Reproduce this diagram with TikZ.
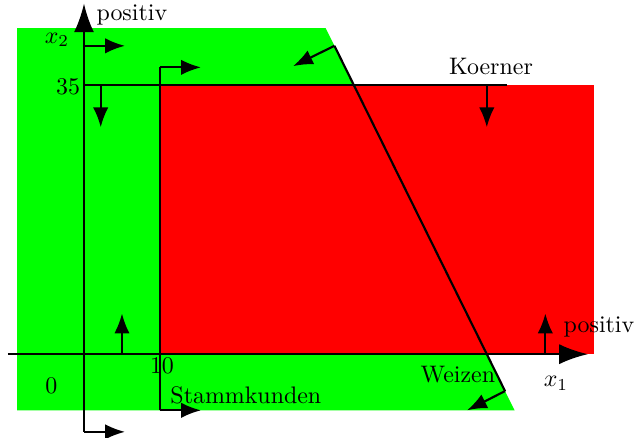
\documentclass[tikz,border=0pt]{standalone}
\usepackage{xcolor}
\usetikzlibrary{arrows.meta}
\begin{document}
\begin{tikzpicture}[
  x=0.1117cm,y=0.113cm,
  constraint/.style={line width=0.9pt},
  hook/.style={line width=0.9pt,-{Latex[length=8.3pt,width=6.4pt]}},
  axis/.style={line width=0.9pt,-{Latex[length=12pt,width=8.4pt]}}
]
  \useasboundingbox (-11.05,-10.8) rectangle (72.63,46.06);

  % Bereiche
  \fill[green] (-8.8,-7.3) -- (-8.8,42.4) -- (31.8,42.4) -- (56.65,-7.3) -- cycle;
  \fill[red] (10,0) rectangle (67.1,35);

  % Achsen
  \coordinate (o) at (0,0);
  \coordinate (x1s) at (-10,0);
  \coordinate (x1e) at (66.3,0);
  \coordinate (x2s) at (0,-10.1);
  \coordinate (x2e) at (0,45.6);
  \draw[axis] (x1s)--(x1e);
  \draw[axis] (x2s)--(x2e);

  % x1 >= 0
  \coordinate (nnb) at (0,-10.1);
  \coordinate (nnt) at (0,40.1);
  \draw[hook] (nnb)--++(5.4,0);
  \draw[hook] (nnt)--++(5.4,0);
  % x2 >= 0
  \draw[hook] (5,0)--++(0,5.3);
  \draw[hook] (60.7,0)--++(0,5.3);

  % Stammkunden
  \coordinate (stb) at (10,-7.3);
  \coordinate (stt) at (10,37.3);
  \draw[constraint] (stb)--(stt);
  \draw[hook] (stb)--++(5.4,0);
  \draw[hook] (stt)--++(5.4,0);

  % Koerner
  \coordinate (koa) at (0,35);
  \coordinate (kob) at (55.6,35);
  \draw[constraint] (koa)--(kob);
  \draw[hook] (2.2,35)--++(0,-5.5);
  \draw[hook] (53,35)--++(0,-5.5);

  % Weizen
  \coordinate (wet) at (32.95,40.1);
  \coordinate (web) at (55.4,-4.8);
  \draw[constraint] (wet)--(web);
  \draw[hook] (wet)--(27.5,37.45);
  \draw[hook] (web)--(50.4,-7.3);

  % Beschriftung
  \node (posy) at (6.3,44.1) {positiv};
  \node (labx2) at (-3.55,40.85) {$x_2$};
  \node (lab35) at (-2.1,34.8) {35};
  \node (lab0) at (-4.28,-4.16) {0};
  \node (lab10) at (10.26,-1.56) {10};
  \node (labst) at (21.3,-5.4) {Stammkunden};
  \node (labko) at (53.55,37.4) {Koerner};
  \node (posx) at (67.76,3.6) {positiv};
  \node (labx1) at (62.1,-3.77) {$x_1$};
  \node (labwe) at (49.2,-2.6) {Weizen};
\end{tikzpicture}
\end{document}
